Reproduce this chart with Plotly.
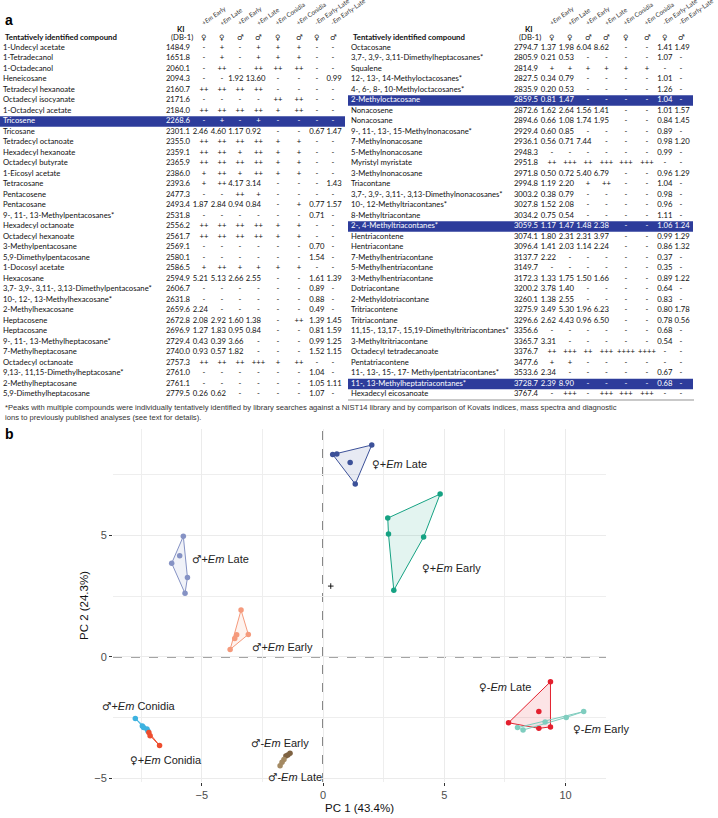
import plotly.graph_objects as go

W, H = 718, 818

# ============================ DATA: panel a (table) ============================
col_sex = ["♀", "♀", "♂", "♂", "♀", "♂", "♀", "♂"]
col_treatment = ["+<i>Em</i> Early", "+<i>Em</i> Late", "+<i>Em</i> Early", "+<i>Em</i> Late",
                 "+<i>Em</i> Conidia", "+<i>Em</i> Conidia", "-<i>Em</i> Early-Late", "-<i>Em</i> Early-Late"]

left_compounds = [
    "1-Undecyl acetate", "1-Tetradecanol", "1-Octadecanol", "Heneicosane", "Tetradecyl hexanoate",
    "Octadecyl isocyanate", "1-Octadecyl acetate", "Tricosene", "Tricosane", "Tetradecyl octanoate",
    "Hexadecyl hexanoate", "Octadecyl butyrate", "1-Eicosyl acetate", "Tetracosane", "Pentacosene",
    "Pentacosane", "9-, 11-, 13-Methylpentacosanes*", "Hexadecyl octanoate", "Octadecyl hexanoate",
    "3-Methylpentacosane", "5,9-Dimethylpentacosane", "1-Docosyl acetate", "Hexacosane",
    "3,7- 3,9-, 3,11-, 3,13-Dimethylpentacosane*", "10-, 12-, 13-Methylhexacosane*", "2-Methylhexacosane",
    "Heptacosene", "Heptacosane", "9-, 11-, 13-Methylheptacosane*", "7-Methylheptacosane",
    "Octadecyl octanoate", "9,13-, 11,15-Dimethylheptacosane*", "2-Methylheptacosane",
    "5,9-Dimethylheptacosane"]
left_ki = ["1484.9", "1651.8", "2060.1", "2094.3", "2160.7", "2171.6", "2184.0", "2268.6", "2301.1",
           "2355.0", "2359.1", "2365.9", "2386.0", "2393.6", "2477.3", "2493.4", "2531.8", "2556.2",
           "2561.7", "2569.1", "2580.1", "2586.5", "2594.9", "2606.7", "2631.8", "2659.6", "2672.8",
           "2696.9", "2729.4", "2740.0", "2757.3", "2761.0", "2761.1", "2779.5"]
left_values = [
    "- + - + + + - -",
    "- + - + + + - -",
    "- ++ - ++ ++ ++ - -",
    "- - 1.92 13.60 - - - 0.99",
    "++ ++ ++ ++ - - - -",
    "- - - - ++ ++ - -",
    "++ ++ ++ ++ + ++ - -",
    "- + - + - - - -",
    "2.46 4.60 1.17 0.92 - - 0.67 1.47",
    "++ ++ ++ ++ + + - -",
    "++ ++ + ++ + + - -",
    "++ ++ ++ ++ + + - -",
    "+ ++ + ++ + + - -",
    "+ ++ 4.17 3.14 - - - 1.43",
    "- - ++ + - - - -",
    "1.87 2.84 0.94 0.84 - + 0.77 1.57",
    "- - - - - - 0.71 -",
    "++ ++ ++ ++ + + - -",
    "++ ++ ++ ++ + + - -",
    "- - - - - - 0.70 -",
    "- - - - - - 1.54 -",
    "+ ++ + + + + - -",
    "5.21 5.13 2.66 2.55 - - 1.61 1.39",
    "- - - - - - 0.89 -",
    "- - - - - - 0.88 -",
    "2.24 - - - - - 0.49 -",
    "2.08 2.92 1.60 1.38 - ++ 1.39 1.45",
    "1.27 1.83 0.95 0.84 - - 0.81 1.59",
    "0.43 0.39 3.66 - - - 0.99 1.25",
    "0.93 0.57 1.82 - - - 1.52 1.15",
    "++ ++ ++ +++ + ++ - -",
    "- - - - - - 1.04 -",
    "- - - - - - 1.05 1.11",
    "0.26 0.62 - - - - 1.07 -"]
left_highlight_rows = [7]

right_compounds = [
    "Octacosane", "3,7-, 3,9-, 3,11-Dimethylheptacosanes*", "Squalene", "12-, 13-, 14-Methyloctacosanes*",
    "4-, 6-, 8-, 10-Methyloctacosanes*", "2-Methyloctacosane", "Nonacosene", "Nonacosane",
    "9-, 11-, 13-, 15-Methylnonacosane*", "7-Methylnonacosane", "5-Methylnonacosane", "Myristyl myristate",
    "3-Methylnonacosane", "Triacontane", "3,7-, 3,9-, 3,11-, 3,13-Dimethylnonacosanes*",
    "10-, 12-Methyltriacontanes*", "8-Methyltriacontane", "2-, 4-Methyltriacontanes*", "Hentriacontene",
    "Hentriacontane", "7-Methylhentriacontane", "5-Methylhentriacontane", "3-Methylhentriacontane",
    "Dotriacontane", "2-Methyldotriacontane", "Tritriacontene", "Tritriacontane",
    "11,15-, 13,17-, 15,19-Dimethyltritriacontanes*", "3-Methyltritriacontane", "Octadecyl tetradecanoate",
    "Pentatriacontene", "11-, 13-, 15-, 17- Methylpentatriacontanes*", "11-, 13-Methylheptatriacontanes*",
    "Hexadecyl eicosanoate"]
right_ki = ["2794.7", "2805.9", "2814.9", "2827.5", "2835.9", "2859.5", "2872.6", "2894.6", "2929.4",
            "2936.1", "2948.3", "2951.8", "2971.8", "2994.8", "3003.2", "3027.8", "3034.2", "3059.5",
            "3074.1", "3096.4", "3137.7", "3149.7", "3172.3", "3200.2", "3260.1", "3275.9", "3296.6",
            "3356.6", "3365.7", "3376.7", "3477.6", "3533.6", "3728.7", "3767.4"]
right_values = [
    "1.37 1.98 6.04 8.62 - - 1.41 1.49",
    "0.21 0.53 - - - - 1.07 -",
    "+ + + + + + - -",
    "0.34 0.79 - - - - 1.01 -",
    "0.20 0.53 - - - - 1.26 -",
    "0.81 1.47 - - - - 1.04 -",
    "1.62 2.64 1.56 1.41 - - 1.01 1.57",
    "0.66 1.08 1.74 1.95 - - 0.84 1.45",
    "0.60 0.85 - - - - 0.89 -",
    "0.56 0.71 7.44 - - - 0.98 1.20",
    "- - - - - - 0.99 -",
    "++ +++ ++ +++ +++ +++ - -",
    "0.50 0.72 5.40 6.79 - - 0.96 1.29",
    "1.19 2.20 + ++ - - 1.04 -",
    "0.38 0.79 - - - - 0.98 -",
    "1.52 2.08 - - - - 0.96 -",
    "0.75 0.54 - - - - 1.11 -",
    "1.17 1.47 1.48 2.38 - - 1.06 1.24",
    "1.80 2.31 2.31 3.97 - - 0.99 1.29",
    "1.41 2.03 1.14 2.24 - - 0.86 1.32",
    "2.22 - - - - - 0.37 -",
    "- - - - - - 0.35 -",
    "1.33 1.75 1.50 1.66 - - 0.89 1.22",
    "3.78 1.40 - - - - 0.64 -",
    "1.38 2.55 - - - - 0.83 -",
    "3.49 5.30 1.96 6.23 - - 0.80 1.78",
    "2.62 4.43 0.96 6.50 - - 0.78 0.56",
    "- - - - - - 0.68 -",
    "3.31 - - - - - 0.54 -",
    "++ +++ ++ +++ ++++ ++++ - -",
    "+ + - - - - - -",
    "2.34 - - - - - 0.67 -",
    "2.39 8.90 - - - - 0.68 -",
    "- +++ - +++ +++ +++ - -"]
right_highlight_rows = [5, 17, 32]

footnote = ("*Peaks with multiple compounds were individually tentatively identified by library searches against "
            "a NIST14 library and by comparison of Kovats indices, mass spectra and diagnostic<br>"
            "ions to previously published analyses (see text for details).")

# ============================ DATA: panel b (PCA) ============================
pc1_title = "PC 1 (43.4%)"
pc2_title = "PC 2 (24.3%)"
x_ticks = [-5, 0, 5, 10]
y_ticks = [-5, 0, 5]

f_em_late_pc1 = [0.40, 0.57, 2.01, 1.12, 1.33]
f_em_late_pc2 = [8.33, 8.35, 8.72, 8.00, 7.11]
f_em_early_pc1 = [2.67, 2.70, 4.83, 4.15, 2.92]
f_em_early_pc2 = [5.71, 5.05, 6.70, 4.93, 2.74]
m_em_late_pc1 = [-5.76, -5.91, -6.24, -5.59, -5.69]
m_em_late_pc2 = [4.96, 4.16, 3.85, 3.26, 2.61]
m_em_early_pc1 = [-3.38, -3.08, -3.56, -3.64, -3.83]
m_em_early_pc2 = [1.92, 0.92, 0.91, 0.75, 0.30]
f_noem_late_pc1 = [9.38, 8.90, 7.65, 8.90, 9.38]
f_noem_late_pc2 = [-1.03, -2.26, -2.72, -2.95, -2.89]
f_noem_early_pc1 = [8.02, 8.25, 9.16, 10.03, 10.75]
f_noem_early_pc2 = [-2.92, -3.02, -2.69, -2.50, -2.26]
m_em_conidia_pc1 = [-7.74, -7.45, -7.40, -7.26, -7.22]
m_em_conidia_pc2 = [-2.54, -2.85, -2.92, -2.98, -3.06]
f_em_conidia_pc1 = [-7.18, -7.13, -6.74]
f_em_conidia_pc2 = [-3.12, -3.25, -3.66]
m_noem_early_pc1 = [-1.36, -1.45, -1.53]
m_noem_early_pc2 = [-3.98, -4.05, -4.09]
m_noem_late_pc1 = [-1.61, -1.69, -1.77]
m_noem_late_pc2 = [-4.23, -4.35, -4.49]
centre_pc1 = [0.32]
centre_pc2 = [2.91]

group_sex = ["♀", "♀", "♂", "♂", "♀", "♀", "♂", "♀", "♂", "♂"]
group_names = ["+<i>Em</i> Late", "+<i>Em</i> Early", "+<i>Em</i> Late", "+<i>Em</i> Early",
               "-<i>Em</i> Late", "-<i>Em</i> Early", "+<i>Em</i> Conidia", "+<i>Em</i> Conidia",
               "-<i>Em</i> Early", "-<i>Em</i> Late"]
group_colors = ["#3C5199", "#16A283", "#8592C4", "#F59A7C", "#E3202E", "#7FCDBF",
                "#3DB2E0", "#EE4D2E", "#7E6242", "#A48A63"]
group_label_x = [1.94, 3.98, -5.47, -3.02, 6.35, 10.21, -9.19, -8.05, -3.07, -2.34]
group_label_y = [7.92, 3.65, 4.02, 0.41, -1.26, -2.99, -2.03, -4.25, -3.54, -4.94]

# ============================ LAYOUT CONSTANTS ============================
TFONT = "Lato, Carlito, Calibri, sans-serif"
PFONT = "Liberation Sans, Arial, sans-serif"
SYMFONT = "DejaVu Sans"
TSIZE = 7.7
TXT = "#111111"
HL_BLUE = "#2D3C9B"
ROW0, ROW_H = 48.0, 10.5
NAME_X = 3
KI_RIGHT = 190
SIGN_DX = [14, 32, 50, 68.5, 88, 109, 127, 143]      # centre of +/- cells
NUM_DX = [2.7, 20.7, 38.2, 55.7, 82, 101, 119.3, 136.5]  # left edge of numeric cells
RIGHT_OFF = 348
X_DOMAIN = [113 / W, 606 / W]
Y_DOMAIN = [36 / H, 389 / H]
X_RANGE = [-8.66, 11.67]
Y_RANGE = [-5.16, 9.38]

def px2paper_x(px):
    return px / W

def px2paper_y(py):
    return 1 - py / H

def is_number(s):
    try:
        float(s)
        return True
    except ValueError:
        return False

fig = go.Figure()
shapes = []
annotations = []

def paper_ann(**kw):
    kw.setdefault("xref", "paper")
    kw.setdefault("yref", "paper")
    annotations.append(kw)

# -------- table --------
def add_table(compounds, ki, values, highlights, off):
    n = len(compounds)
    rows = list(range(n))
    colors = ["white" if i in highlights else TXT for i in rows]
    common = dict(mode="text", xaxis="x2", yaxis="y2", cliponaxis=False,
                  hoverinfo="skip", showlegend=False)
    for i in highlights:
        shapes.append(dict(type="rect", xref="x2", yref="y2", x0=off, x1=off + 345,
                           y0=i - 0.5, y1=i + 0.5, fillcolor=HL_BLUE, line_width=0, layer="below"))
    fig.add_trace(go.Scatter(x=[off + NAME_X] * n, y=rows, text=compounds, textposition="middle right",
                             textfont=dict(family=TFONT, size=TSIZE, color=colors), **common))
    fig.add_trace(go.Scatter(x=[off + KI_RIGHT] * n, y=rows, text=ki, textposition="middle left",
                             textfont=dict(family=TFONT, size=TSIZE, color=colors), **common))
    cells = [v.split() for v in values]
    for j in range(8):
        col = [c[j] for c in cells]
        num = [is_number(c) for c in col]
        xs = [off + KI_RIGHT + (NUM_DX[j] if k else SIGN_DX[j]) for k in num]
        pos = ["middle right" if k else "middle center" for k in num]
        fig.add_trace(go.Scatter(x=xs, y=rows, text=col, textposition=pos,
                                 textfont=dict(family=TFONT, size=TSIZE, color=colors), **common))
    # headers
    paper_ann(text="<b>Tentatively identified compound</b>", x=px2paper_x(off + NAME_X),
              y=px2paper_y(ROW0 - 10.5), xanchor="left", yanchor="middle",
              font=dict(family=TFONT, size=TSIZE + 0.1, color=TXT))
    paper_ann(text="<b>KI</b>", x=px2paper_x(off + KI_RIGHT - 9), y=px2paper_y(29),
              xanchor="center", yanchor="middle", font=dict(family=TFONT, size=TSIZE, color=TXT))
    paper_ann(text="(DB-1)", x=px2paper_x(off + KI_RIGHT - 8.5), y=px2paper_y(ROW0 - 10.5),
              xanchor="center", yanchor="middle", font=dict(family=TFONT, size=TSIZE, color=TXT))
    for j in range(8):
        cx = off + KI_RIGHT + SIGN_DX[j]
        paper_ann(text=col_sex[j], x=px2paper_x(cx), y=px2paper_y(ROW0 - 10.5),
                  xanchor="center", yanchor="middle",
                  font=dict(family=SYMFONT, size=7.5, color="#222"))
        paper_ann(text=col_treatment[j], x=px2paper_x(cx - 5), y=px2paper_y(28),
                  xanchor="left", yanchor="bottom", textangle=-35, borderpad=0,
                  font=dict(family=TFONT, size=6.3, color="#333"))

add_table(left_compounds, left_ki, left_values, left_highlight_rows, 0)
add_table(right_compounds, right_ki, right_values, right_highlight_rows, RIGHT_OFF)

shapes.append(dict(type="line", xref="paper", yref="paper", x0=px2paper_x(RIGHT_OFF), x1=px2paper_x(RIGHT_OFF + 346),
                   y0=px2paper_y(ROW0 + 33 * ROW_H + 5.5), y1=px2paper_y(ROW0 + 33 * ROW_H + 5.5),
                   line=dict(color="#666", width=0.7)))

paper_ann(text=footnote, x=px2paper_x(3), y=px2paper_y(400.5), xanchor="left", yanchor="top",
          align="left", font=dict(family=PFONT, size=7.6, color="#333"))
paper_ann(text="<b>a</b>", x=px2paper_x(3), y=px2paper_y(20), xanchor="left", yanchor="middle",
          font=dict(family=PFONT, size=14, color="black"))
paper_ann(text="<b>b</b>", x=px2paper_x(3), y=px2paper_y(434), xanchor="left", yanchor="middle",
          font=dict(family=PFONT, size=14, color="black"))

# -------- PCA --------
def convex_hull(xs, ys):
    pts = sorted(set(zip(xs, ys)))
    if len(pts) <= 2:
        return pts
    def cross(o, a, b):
        return (a[0] - o[0]) * (b[1] - o[1]) - (a[1] - o[1]) * (b[0] - o[0])
    lower, upper = [], []
    for p in pts:
        while len(lower) >= 2 and cross(lower[-2], lower[-1], p) <= 0:
            lower.pop()
        lower.append(p)
    for p in reversed(pts):
        while len(upper) >= 2 and cross(upper[-2], upper[-1], p) <= 0:
            upper.pop()
        upper.append(p)
    return lower[:-1] + upper[:-1]

def rgba(hexc, a):
    h = hexc.lstrip("#")
    return "rgba(%d,%d,%d,%.2f)" % (int(h[0:2], 16), int(h[2:4], 16), int(h[4:6], 16), a)

group_pc1 = [f_em_late_pc1, f_em_early_pc1, m_em_late_pc1, m_em_early_pc1, f_noem_late_pc1,
             f_noem_early_pc1, m_em_conidia_pc1, f_em_conidia_pc1, m_noem_early_pc1, m_noem_late_pc1]
group_pc2 = [f_em_late_pc2, f_em_early_pc2, m_em_late_pc2, m_em_early_pc2, f_noem_late_pc2,
             f_noem_early_pc2, m_em_conidia_pc2, f_em_conidia_pc2, m_noem_early_pc2, m_noem_late_pc2]

for name, colr, xs, ys in zip(group_names, group_colors, group_pc1, group_pc2):
    hull = convex_hull(xs, ys)
    hx = [p[0] for p in hull] + [hull[0][0]]
    hy = [p[1] for p in hull] + [hull[0][1]]
    fig.add_trace(go.Scatter(x=hx, y=hy, mode="lines", fill="toself", fillcolor=rgba(colr, 0.12),
                             line=dict(color=colr, width=1.0), hoverinfo="skip", showlegend=False))
    fig.add_trace(go.Scatter(x=xs, y=ys, mode="markers", marker=dict(color=colr, size=5.5),
                             name=name, showlegend=False))

fig.add_trace(go.Scatter(x=centre_pc1, y=centre_pc2, mode="markers",
                         marker=dict(symbol="cross-thin", size=4, line=dict(color="black", width=0.9)),
                         showlegend=False, hoverinfo="skip"))

def data2paper_x(v):
    return X_DOMAIN[0] + (v - X_RANGE[0]) / (X_RANGE[1] - X_RANGE[0]) * (X_DOMAIN[1] - X_DOMAIN[0])

def data2paper_y(v):
    return Y_DOMAIN[0] + (v - Y_RANGE[0]) / (Y_RANGE[1] - Y_RANGE[0]) * (Y_DOMAIN[1] - Y_DOMAIN[0])

for sx, name, lx, ly in zip(group_sex, group_names, group_label_x, group_label_y):
    txt = "<span style=\"font-family:'DejaVu Sans';font-size:10.5px\">%s</span>%s" % (sx, name)
    paper_ann(text=txt, x=data2paper_x(lx), y=data2paper_y(ly), xanchor="left", yanchor="middle",
              font=dict(family=PFONT, size=11, color="#222"))

shapes.append(dict(type="line", xref="x", yref="y domain", x0=0, x1=0, y0=0, y1=1,
                   line=dict(color="#4a4a4a", width=1.3, dash="dash"), layer="below"))
shapes.append(dict(type="line", xref="x domain", yref="y", x0=0, x1=1, y0=0, y1=0,
                   line=dict(color="#4a4a4a", width=1.3, dash="dash"), layer="below"))

for a in annotations:
    a.setdefault("showarrow", False)

grid = dict(showgrid=True, gridcolor="#EBEBEB", gridwidth=0.8)
fig.update_layout(
    width=W, height=H, margin=dict(l=0, r=0, t=0, b=0, autoexpand=False),
    paper_bgcolor="white", plot_bgcolor="rgba(0,0,0,0)",
    font=dict(family=PFONT),
    shapes=shapes, annotations=annotations,
    xaxis=dict(domain=X_DOMAIN, range=X_RANGE, tickvals=x_ticks, zeroline=False,
               minor=dict(dtick=2.5, tick0=0, showgrid=True, gridcolor="#EEEEEE", gridwidth=0.7),
               ticks="outside", ticklen=3, tickcolor="#333", tickwidth=0.8, showline=False,
               tickfont=dict(family=PFONT, size=11, color="#4D4D4D"),
               title=dict(text=pc1_title, font=dict(family=PFONT, size=11.5, color="#111"), standoff=3),
               automargin=False, anchor="y", **grid),
    yaxis=dict(domain=Y_DOMAIN, range=Y_RANGE, tickvals=y_ticks, zeroline=False,
               minor=dict(dtick=2.5, tick0=0, showgrid=True, gridcolor="#EEEEEE", gridwidth=0.7),
               ticks="outside", ticklen=3, tickcolor="#333", tickwidth=0.8, showline=False,
               tickfont=dict(family=PFONT, size=11, color="#4D4D4D"),
               title=dict(text=pc2_title, font=dict(family=PFONT, size=11.5, color="#111"), standoff=3),
               automargin=False, anchor="x", **grid),
    xaxis2=dict(domain=[0, 1], range=[0, W], visible=False, anchor="y2", fixedrange=True),
    yaxis2=dict(domain=[0, 1], range=[(H - ROW0) / ROW_H, -ROW0 / ROW_H], visible=False,
                anchor="x2", fixedrange=True),
)

fig.write_html("out.html", config={"displayModeBar": False},
               post_script="document.body.style.margin='0px';document.body.style.padding='0px';")
